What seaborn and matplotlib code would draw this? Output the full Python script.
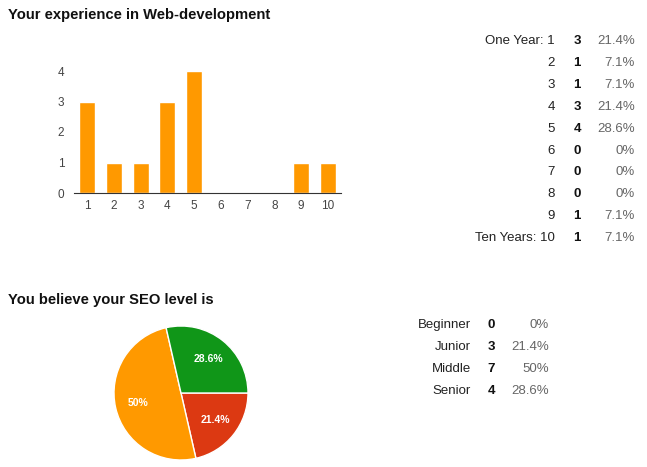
import seaborn as sns
import matplotlib.pyplot as plt

# 웹 개발 경력 (1 ~ 10년)
exp_years = ['1', '2', '3', '4', '5', '6', '7', '8', '9', '10']
exp_counts = [3, 1, 1, 3, 4, 0, 0, 0, 1, 1]
exp_row_labels = ['One Year: 1', '2', '3', '4', '5', '6', '7', '8', '9', 'Ten Years: 10']
exp_pcts = ['21.4%', '7.1%', '7.1%', '21.4%', '28.6%', '0%', '0%', '0%', '7.1%', '7.1%']

# SEO 수준
seo_levels = ['Beginner', 'Junior', 'Middle', 'Senior']
seo_counts = [0, 3, 7, 4]
seo_pcts = ['0%', '21.4%', '50%', '28.6%']
seo_colors = ['#3366cc', '#dc3912', '#ff9900', '#109618']

sns.set_style('white')
plt.rcParams['font.family'] = ['Liberation Sans', 'DejaVu Sans']

W, H = 647, 467
fig = plt.figure(figsize=(W / 100, H / 100), dpi=100)


def fx(px):
    return px / W


def fy(py):
    return 1 - py / H


# 막대 그래프
ax1 = fig.add_axes([fx(74), fy(193), fx(341) - fx(74), fy(71) - fy(193)])
sns.barplot(x=exp_years, y=exp_counts, color='#ff9900', saturation=1, width=0.6, ax=ax1)
ax1.set_xlim(-0.5, 9.5)
ax1.set_ylim(0, 4)
ax1.set_yticks([0, 1, 2, 3, 4])
sns.despine(ax=ax1, left=True, top=True, right=True)
ax1.spines['bottom'].set_color('#333333')
ax1.tick_params(axis='both', length=0, labelsize=8.5, colors='#444444')
ax1.tick_params(axis='x', pad=5)
ax1.tick_params(axis='y', pad=7)
ax1.set_xlabel('')
ax1.set_ylabel('')

fig.text(fx(8), fy(15), 'Your experience in Web-development', fontsize=10.6,
         fontweight='bold', color='#111111', va='center', ha='left')

# 경력 표
for i, (lab, cnt, pct) in enumerate(zip(exp_row_labels, exp_counts, exp_pcts)):
    y = fy(40.7 + i * 21.96)
    fig.text(fx(555), y, lab, fontsize=9.5, color='#222222', ha='right', va='center')
    fig.text(fx(581), y, str(cnt), fontsize=9.5, fontweight='bold', color='#111111',
             ha='right', va='center')
    fig.text(fx(635), y, pct, fontsize=9.5, color='#666666', ha='right', va='center')

# 파이 차트
fig.text(fx(8), fy(300), 'You believe your SEO level is', fontsize=10.6,
         fontweight='bold', color='#111111', va='center', ha='left')

r = 67
ax2 = fig.add_axes([fx(181 - r), fy(393 + r), fx(2 * r), fy(0) - fy(2 * r)])
ax2.pie(seo_counts, colors=seo_colors, startangle=0, counterclock=False,
        autopct=lambda p: f'{p:.1f}%'.replace('.0%', '%') if p > 0 else '',
        pctdistance=0.65,
        wedgeprops=dict(edgecolor='white', linewidth=1),
        textprops=dict(color='white', fontsize=7.5, fontweight='bold'))
ax2.set_xlim(-1, 1)
ax2.set_ylim(-1, 1)

# SEO 표
for i, (lab, cnt, pct) in enumerate(zip(seo_levels, seo_counts, seo_pcts)):
    y = fy(325 + i * 22)
    fig.text(fx(471), y, lab, fontsize=9.5, color='#222222', ha='right', va='center')
    fig.text(fx(495), y, str(cnt), fontsize=9.5, fontweight='bold', color='#111111',
             ha='right', va='center')
    fig.text(fx(549), y, pct, fontsize=9.5, color='#666666', ha='right', va='center')

fig.savefig('out.png', dpi=100)
